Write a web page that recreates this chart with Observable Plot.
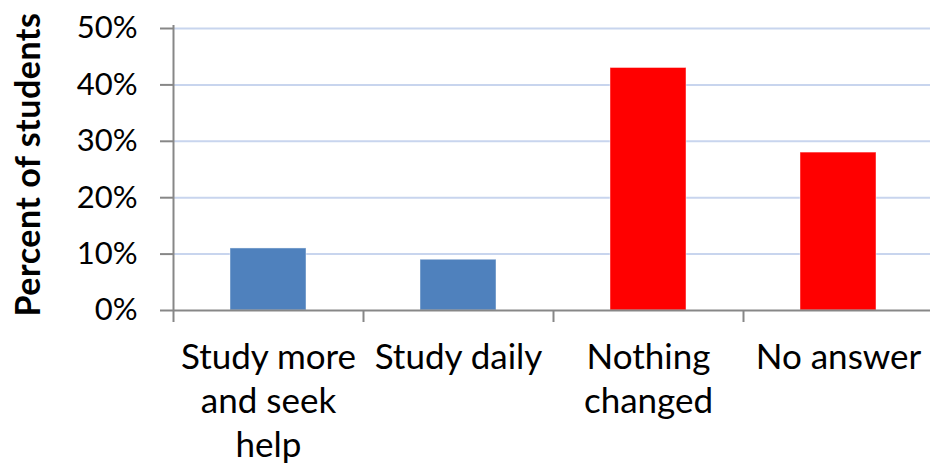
<!DOCTYPE html>
<html>
<head>
<meta charset="utf-8">
<script src="https://cdn.jsdelivr.net/npm/d3@7"></script>
<script src="https://cdn.jsdelivr.net/npm/@observablehq/plot@0.6"></script>
<style>
  html, body { margin: 0; padding: 0; background: #fff; overflow: hidden; }
</style>
</head>
<body>
<div id="chart"></div>
<script>
// Survey responses: what students changed after the exam
const categories = ["Study more and seek help", "Study daily", "Nothing changed", "No answer"];
const tickLabels = ["Study more\nand seek\nhelp", "Study daily", "Nothing\nchanged", "No answer"];
const percents = [11, 9, 43, 28];
const barColors = ["#4f81bd", "#4f81bd", "#ff0000", "#ff0000"];
const yTicks = [0, 10, 20, 30, 40, 50];
const yTitle = "Percent of students";

const rows = categories.map((c, i) => ({category: c, label: tickLabels[i], value: percents[i], color: barColors[i]}));

const AXIS = "#878787";
const GRID = "#c8d5ee";
const xRange = [173, 933];
const halfStep = (xRange[1] - xRange[0]) / categories.length / 2;

const chart = Plot.plot({
  width: 930,
  height: 466,
  marginLeft: 173,
  marginRight: 0,
  marginTop: 28,
  marginBottom: 156,
  style: {background: "#fff", overflow: "visible", fontFamily: "Lato, sans-serif", color: "#000"},
  x: {domain: categories, range: xRange, paddingInner: 0.6, paddingOuter: 0.3},
  y: {domain: [0, 50]},
  color: {type: "identity"},
  marks: [
    Plot.gridY(yTicks.filter(d => d > 0), {stroke: GRID, strokeOpacity: 1, strokeWidth: 2}),
    Plot.barY(rows, {x: "category", y: "value", fill: "color", stroke: "#fff", strokeOpacity: 0.45, strokeWidth: 1}),
    // baseline
    Plot.ruleY([0], {stroke: AXIS, strokeWidth: 2}),
    // value axis line, running a little past the baseline
    Plot.ruleX([categories[0]], {x: d => d, y1: 50, y2: 0, dx: -halfStep, insetTop: -3, insetBottom: -12, stroke: AXIS, strokeWidth: 2}),
    // category boundary ticks
    Plot.ruleX(categories.slice(1), {x: d => d, y1: 0, y2: 0, dx: -halfStep, insetBottom: -12, stroke: AXIS, strokeWidth: 2}),
    Plot.axisY(yTicks, {
      tickFormat: d => d + "%",
      tickSize: 13,
      tickPadding: 23,
      stroke: AXIS,
      strokeWidth: 2,
      fontSize: 31,
      fill: "#000",
      label: null
    }),
    Plot.axisX({
      tickSize: 0,
      tickPadding: 27,
      tickFormat: d => tickLabels[categories.indexOf(d)],
      fontSize: 35,
      lineHeight: 1.26,
      fill: "#000",
      label: null
    }),
    Plot.text([yTitle], {
      frameAnchor: "left",
      textAnchor: "middle",
      dx: -144,
      dy: -5,
      rotate: -90,
      text: d => d,
      fontSize: 34,
      fontWeight: "bold",
      fill: "#000"
    })
  ]
});

// open the title's letter spacing a little
d3.select(chart).selectAll("text").filter(function () { return this.textContent === yTitle; })
  .style("letter-spacing", "0.5px");

document.getElementById("chart").append(chart);
</script>
</body>
</html>
